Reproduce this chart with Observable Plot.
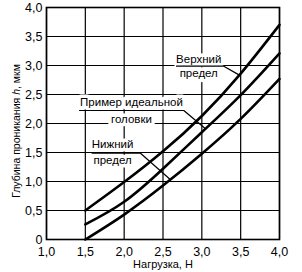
<!DOCTYPE html>
<html>
<head>
<meta charset="utf-8">
<script src="https://cdn.jsdelivr.net/npm/d3@7"></script>
<script src="https://cdn.jsdelivr.net/npm/@observablehq/plot@0.6"></script>
<style>
  html, body { margin: 0; padding: 0; background: #fff; }
  #chart { width: 302px; height: 272px; }
  svg { font-family: "Liberation Sans", Arial, sans-serif; }
</style>
</head>
<body>
<div id="chart"></div>
<script>
// Data
const loads = [1.5, 2.0, 2.5, 3.0, 3.5, 4.0];
const upperLimit = [0.50, 0.99, 1.52, 2.13, 2.86, 3.70];
const idealHead  = [0.26, 0.65, 1.22, 1.85, 2.49, 3.21];
const lowerLimit = [0.00, 0.43, 0.93, 1.48, 2.08, 2.77];

const xTicks = [1.0, 1.5, 2.0, 2.5, 3.0, 3.5, 4.0];
const yTicks = [0, 0.5, 1.0, 1.5, 2.0, 2.5, 3.0, 3.5, 4.0];

const xLabel = "Нагрузка, Н";
const yLabelParts = ["Глубина проникания ", "h", ", мкм"];

// Annotation labels (data coordinates)
const labelLines = [
  {text: "Верхний", x: 2.96, y: 3.11},
  {text: "предел", x: 2.96, y: 2.86},
  {text: "Пример идеальной", x: 2.094, y: 2.37},
  {text: "головки", x: 2.094, y: 2.08},
  {text: "Нижний", x: 1.85, y: 1.64},
  {text: "предел", x: 1.85, y: 1.37}
];
const leaders = [
  {id: "upper", pts: [[2.674, 2.988], [3.283, 2.988], [3.489, 2.83]]},
  {id: "ideal", pts: [[1.425, 2.224], [2.768, 2.224], [3.047, 1.91]]},
  {id: "lower", pts: [[1.588, 1.488], [2.210, 1.488], [2.597, 1.03]]}
];

const series = [
  {name: "upper", values: upperLimit},
  {name: "ideal", values: idealHead},
  {name: "lower", values: lowerLimit}
];
const curveData = series.flatMap(s => loads.map((x, i) => ({series: s.name, x, y: s.values[i]})));
const leaderData = leaders.flatMap(l => l.pts.map(([x, y]) => ({id: l.id, x, y})));

const fmt = d => d === 0 ? "0" : d.toFixed(1).replace(".", ",");

const plot = Plot.plot({
  width: 302,
  height: 272,
  marginTop: 7,
  marginBottom: 33,
  marginLeft: 46,
  marginRight: 23,
  style: {fontFamily: "'Liberation Sans', Arial, sans-serif", fontSize: "12.5px", color: "#000", background: "#fff"},
  x: {domain: [1, 4]},
  y: {domain: [0, 4]},
  marks: [
    Plot.gridX(xTicks, {stroke: "#000", strokeOpacity: 1, strokeWidth: 1.2}),
    Plot.gridY(yTicks, {stroke: "#000", strokeOpacity: 1, strokeWidth: 1.2}),
    Plot.text(labelLines, {x: "x", y: "y", text: "text", fill: "#000", stroke: "#fff", strokeWidth: 7, strokeLinejoin: "round", fontSize: 11.5}),
    Plot.line(leaderData, {x: "x", y: "y", z: "id", stroke: "#000", strokeWidth: 1.2}),
    Plot.line(curveData, {x: "x", y: "y", z: "series", stroke: "#000", strokeWidth: 2.6, curve: "natural"}),
    Plot.frame({stroke: "#000", strokeWidth: 1.6}),
    Plot.axisX(xTicks, {tickSize: 0, tickPadding: 8, tickFormat: fmt, label: null, fontSize: 12.5}),
    Plot.axisY(yTicks, {tickSize: 0, tickPadding: 4, tickFormat: fmt, label: null, fontSize: 12.5})
  ]
});

document.getElementById("chart").appendChild(plot);

const svg = d3.select(plot);
svg.append("text")
  .attr("x", 163)
  .attr("y", 268)
  .attr("text-anchor", "middle")
  .attr("font-size", 11)
  .attr("fill", "#000")
  .text(xLabel);

const yl = svg.append("text")
  .attr("transform", "translate(20,131) rotate(-90)")
  .attr("text-anchor", "middle")
  .attr("font-size", 10.5)
  .attr("fill", "#000");
yl.append("tspan").text(yLabelParts[0]);
yl.append("tspan").attr("font-style", "italic").text(yLabelParts[1]);
yl.append("tspan").text(yLabelParts[2]);
</script>
</body>
</html>
